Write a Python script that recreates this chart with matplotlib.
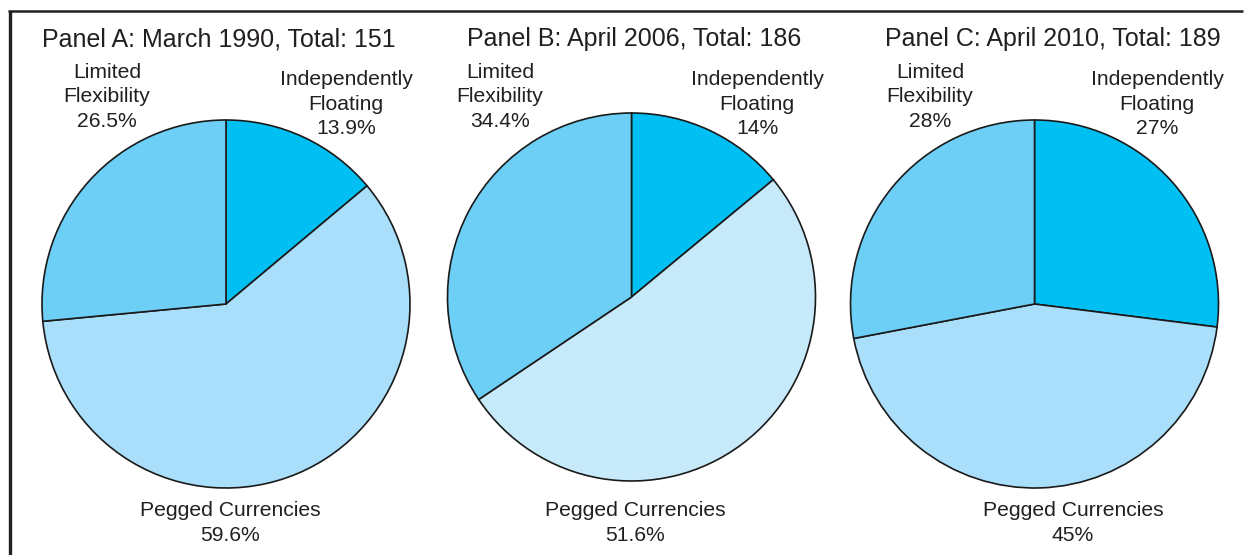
import matplotlib
matplotlib.use("Agg")
import matplotlib.pyplot as plt
from matplotlib.lines import Line2D

plt.rcParams['font.family'] = ['Liberation Sans', 'DejaVu Sans']

W, H = 1246, 555

panel_titles = ["Panel A: March 1990, Total: 151",
                "Panel B: April 2006, Total: 186",
                "Panel C: April 2010, Total: 189"]
categories = ["Independently\nFloating", "Pegged Currencies", "Limited\nFlexibility"]
values_a = [13.9, 59.6, 26.5]
values_b = [14, 51.6, 34.4]
values_c = [27, 45, 28]
value_labels_a = ["13.9%", "59.6%", "26.5%"]
value_labels_b = ["14%", "51.6%", "34.4%"]
value_labels_c = ["27%", "45%", "28%"]

col_float = "#00BFF3"
col_limited = "#6DCFF6"
pegged_cols = ["#A9DFFA", "#C6EAF9", "#A9DFFA"]
txt = "#231F20"

# layout (pixel coordinates, y from top)
centers = [(226, 304), (631.5, 297), (1034.5, 304)]
radius = 184
title_x = [219, 634, 1053]
title_y = 39
label_pos = [
    [(346, 104), (230, 523), (107, 97)],
    [(757, 104), (635, 523), (500, 97)],
    [(1157, 104), (1073, 523), (930, 97)],
]

fig = plt.figure(figsize=(W / 100, H / 100), dpi=100)
ax = fig.add_axes([0, 0, 1, 1])

all_vals = [values_a, values_b, values_c]
all_labels = [value_labels_a, value_labels_b, value_labels_c]
for i, vals in enumerate(all_vals):
    cx, cy = centers[i]
    ax.pie(vals, colors=[col_float, pegged_cols[i], col_limited],
           startangle=90, counterclock=False, center=(cx, H - cy), radius=radius,
           wedgeprops=dict(edgecolor="#1a1a1a", linewidth=1.2), frame=True)
    ax.text(title_x[i], H - title_y, panel_titles[i], ha="center", va="center",
            fontsize=18, color=txt)
    for j, cat in enumerate(categories):
        lx, ly = label_pos[i][j]
        ax.text(lx, H - ly, cat + "\n" + all_labels[i][j], ha="center", va="center",
                fontsize=15.2, color=txt, linespacing=1.38)

ax.set_xlim(0, W)
ax.set_ylim(0, H)
ax.set_aspect("auto")
ax.axis("off")

# frame lines
ax.add_line(Line2D([9.5, 9.5], [-5, H - 10.5], color=txt, linewidth=2.4, solid_capstyle="butt"))
ax.add_line(Line2D([8.3, 1243], [H - 10.5, H - 10.5], color=txt, linewidth=1.8, solid_capstyle="butt"))

fig.savefig("out.png", dpi=100)
